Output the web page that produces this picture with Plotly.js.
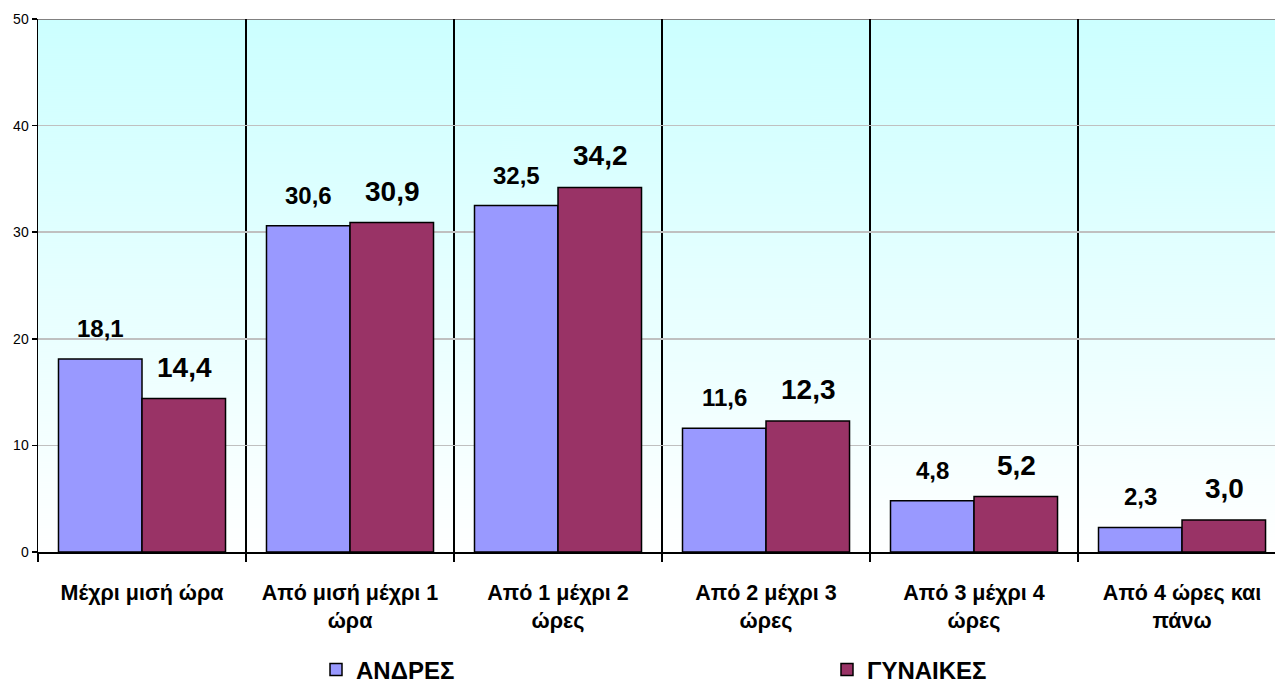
<!DOCTYPE html>
<html>
<head>
<meta charset="utf-8">
<script src="https://cdn.plot.ly/plotly-3.0.1.min.js"></script>
<style>html,body{margin:0;padding:0;background:#fff;}#chart{width:1275px;height:683px;}</style>
</head>
<body>
<div id="chart"></div>
<script>
const categories = ["Μέχρι μισή ώρα", "Από μισή μέχρι 1<br>ώρα", "Από 1 μέχρι 2<br>ώρες", "Από 2 μέχρι 3<br>ώρες", "Από 3 μέχρι 4<br>ώρες", "Από 4 ώρες και<br>πάνω"];
const seriesNames = ["ΑΝΔΡΕΣ", "ΓΥΝΑΙΚΕΣ"];
const andres = [18.1, 30.6, 32.5, 11.6, 4.8, 2.3];
const gynaikes = [14.4, 30.9, 34.2, 12.3, 5.2, 3.0];
const yTicks = [0, 10, 20, 30, 40, 50];

const FONT = "Liberation Sans, Arial, sans-serif";
const fmt = v => v.toFixed(1).replace('.', ',');

// gradient background image
const cv = document.createElement('canvas');
cv.width = 4; cv.height = 533;
const ctx = cv.getContext('2d');
const g = ctx.createLinearGradient(0, 0, 0, 533);
g.addColorStop(0, '#CCFFFF');
g.addColorStop(1, '#FFFFFF');
ctx.fillStyle = g; ctx.fillRect(0, 0, 4, 533);
const bgUrl = cv.toDataURL('image/png');

const traces = [
  {type: 'bar', name: '<b>' + seriesNames[0] + '</b>', x: categories, y: andres, legend: 'legend',
   marker: {color: '#9999FF', line: {color: '#000000', width: 1.5}}, hoverinfo: 'skip'},
  {type: 'bar', name: '<b>' + seriesNames[1] + '</b>', x: categories, y: gynaikes, legend: 'legend2',
   marker: {color: '#993366', line: {color: '#000000', width: 1.5}}, hoverinfo: 'skip'}
];

const annotations = [];
categories.forEach((c, i) => {
  annotations.push({x: c, y: andres[i], xref: 'x', yref: 'y', text: '<b>' + fmt(andres[i]) + '</b>', showarrow: false,
    xshift: -42, yshift: 15, yanchor: 'bottom', font: {family: FONT, size: 24, color: '#000'}});
  annotations.push({x: c, y: gynaikes[i], xref: 'x', yref: 'y', text: '<b>' + fmt(gynaikes[i]) + '</b>', showarrow: false,
    xshift: 42, yshift: 14, yanchor: 'bottom', font: {family: FONT, size: 28, color: '#000'}});
});

const legFont = {family: FONT, size: 24, weight: 'bold', color: '#000'};
const layout = {
  width: 1275, height: 683,
  margin: {l: 38, r: 0, t: 19, b: 131, pad: 0},
  paper_bgcolor: '#FFFFFF',
  plot_bgcolor: 'rgba(0,0,0,0)',
  font: {family: FONT, color: '#000'},
  barmode: 'group', bargap: 0.197, bargroupgap: 0,
  showlegend: true,
  legend: {orientation: 'h', xref: 'container', yref: 'container', x: 316 / 1275, y: 0.019,
    xanchor: 'left', yanchor: 'middle', font: legFont, bgcolor: 'rgba(0,0,0,0)'},
  legend2: {orientation: 'h', xref: 'container', yref: 'container', x: 827 / 1275, y: 0.019,
    xanchor: 'left', yanchor: 'middle', font: legFont, bgcolor: 'rgba(0,0,0,0)'},
  xaxis: {type: 'category', range: [-0.5, 5.447], tickson: 'boundaries', ticks: 'outside', ticklen: 8,
    tickcolor: '#000', tickwidth: 1.5, showgrid: true, gridcolor: '#000000', gridwidth: 1.5,
    showline: true, linecolor: '#000', linewidth: 1.5, ticklabelstandoff: 21, automargin: false,
    tickfont: {family: FONT, size: 21.5, weight: 'bold', color: '#000'}, fixedrange: true},
  yaxis: {range: [0, 50], tickvals: yTicks, ticktext: yTicks.map(String), ticks: 'outside', ticklen: 5,
    tickcolor: '#000', tickwidth: 1.5, showgrid: true, gridcolor: '#C0C0C0', gridwidth: 1.5,
    showline: true, linecolor: '#000', linewidth: 1.5, zeroline: false, automargin: false,
    tickfont: {family: FONT, size: 14, color: '#000'}, fixedrange: true},
  images: [{source: bgUrl, xref: 'paper', yref: 'paper', x: 0, y: 1, sizex: 1, sizey: 1,
    xanchor: 'left', yanchor: 'top', sizing: 'stretch', layer: 'below'}],
  shapes: [{type: 'line', xref: 'paper', yref: 'y', x0: 0, x1: 1, y0: 50, y1: 50,
    line: {color: '#808080', width: 2}, layer: 'below'}],
  annotations: annotations
};

Plotly.newPlot('chart', traces, layout, {displayModeBar: false, staticPlot: true});
</script>
</body>
</html>
